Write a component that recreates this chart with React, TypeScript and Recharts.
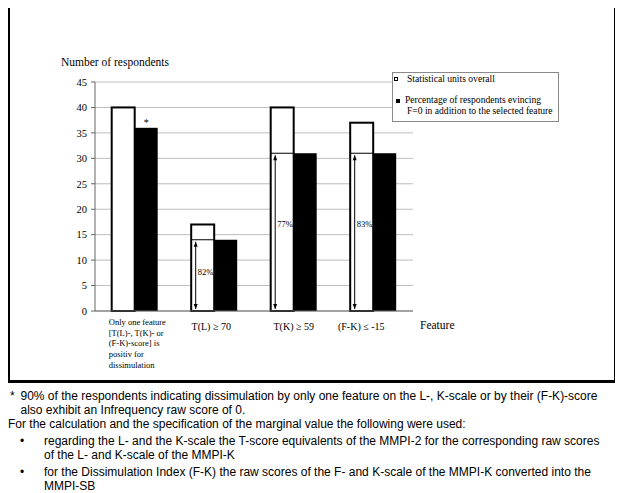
import React from 'react';
import { BarChart, Bar, XAxis, YAxis, CartesianGrid, Legend } from 'recharts';

// categories (first one is wrapped over several lines, as in the figure)
const categoryLines = [
  ['Only one feature', '[T(L)-, T(K)- or', '(F-K)-score] is', 'positiv for', 'dissimulation'],
  ['T(L) \u2265 70'],
  ['T(K) \u2265 59'],
  ['(F-K) \u2264 -15'],
];

// number of respondents
const overall = [40, 17, 40, 37];
const withF0 = [36, 14, 31, 31];

// share of F=0 respondents inside the white bar (%)
const f0Share: (number | null)[] = [null, 82, 77, 83];
const notes = ['*', '', '', ''];

const yTicks = [0, 5, 10, 15, 20, 25, 30, 35, 40, 45];
const edgeTicks = [0, 1, 2, 3, 4];

const data = categoryLines.map((lines, i) => ({
  name: lines.join(' '),
  overall: overall[i],
  withF0: withF0[i],
  share: f0Share[i],
  note: notes[i],
}));

const SERIF = '"Liberation Serif", "Times New Roman", serif';
const SANS = '"Liberation Sans", Arial, sans-serif';
const tickShift = [0, -3, 0, -12];

const FeatureTick = (props: any) => {
  const { x, y, index } = props;
  const lines = categoryLines[index] || [];
  if (lines.length > 1) {
    return (
      <text fontFamily={SERIF} fontSize={8.5} fill="#000">
        {lines.map((l, i) => (
          <tspan key={i} x={x - 26} y={y + 13.7 + i * 10.8}>{l}</tspan>
        ))}
      </text>
    );
  }
  return (
    <text x={x + tickShift[index]} y={y + 19} textAnchor="middle" fontFamily={SERIF} fontSize={10} fill="#000">
      {lines[0]}
    </text>
  );
};

const OverallShape = (props: any) => {
  const { x, y, width, height, payload } = props;
  const bottom = y + height;
  let inner = null;
  if (payload.share != null) {
    const yi = y + height * (1 - payload.withF0 / payload.overall);
    const ax = x + 4.5;
    const h = bottom - yi;
    inner = (
      <g>
        <line x1={x} x2={x + width} y1={yi} y2={yi} stroke="#000" strokeWidth={1} />
        <line x1={ax} x2={ax} y1={yi + 2} y2={bottom - 2} stroke="#000" strokeWidth={1} />
        <polygon points={`${ax},${yi + 2} ${ax - 2},${yi + 7} ${ax + 2},${yi + 7}`} fill="#000" />
        <polygon points={`${ax},${bottom - 2} ${ax - 2},${bottom - 7} ${ax + 2},${bottom - 7}`} fill="#000" />
        <text x={x + 6.5} y={bottom - h * 0.55 + 3} fontFamily={SERIF} fontSize={8.5} fill="#000">
          {payload.share}%
        </text>
      </g>
    );
  }
  return (
    <g>
      <rect x={x} y={y} width={width} height={height} fill="#fff" stroke="#000" strokeWidth={2} />
      {inner}
    </g>
  );
};

const F0Shape = (props: any) => {
  const { x, y, width, height, payload } = props;
  return (
    <g>
      <rect x={x} y={y} width={width} height={height} fill="#000" />
      {payload.note ? (
        <text x={x + width / 2} y={y - 2} textAnchor="middle" fontFamily={SERIF} fontSize={10} fill="#000">
          {payload.note}
        </text>
      ) : null}
    </g>
  );
};

const LegendBox = () => (
  <div
    style={{
      position: 'relative',
      width: 167,
      height: 50,
      border: '1px solid #8a8a8a',
      background: '#fff',
      boxSizing: 'border-box',
      fontFamily: SERIF,
      fontSize: 9.6,
      lineHeight: '10px',
      color: '#000',
    }}
  >
    <div style={{ position: 'absolute', left: 1, top: 4, width: 4, height: 4, border: '1px solid #000', boxSizing: 'border-box' }} />
    <div style={{ position: 'absolute', left: 14, top: 1, whiteSpace: 'nowrap' }}>Statistical units overall</div>
    <div style={{ position: 'absolute', left: 3, top: 26, width: 4, height: 4, background: '#000' }} />
    <div style={{ position: 'absolute', left: 12, top: 22, whiteSpace: 'nowrap' }}>Percentage of respondents evincing</div>
    <div style={{ position: 'absolute', left: 14, top: 33, whiteSpace: 'nowrap' }}>F=0 in addition to the selected feature</div>
  </div>
);

const footStyle: React.CSSProperties = {
  position: 'absolute',
  fontFamily: SANS,
  fontSize: 12,
  lineHeight: '12px',
  color: '#000',
  whiteSpace: 'nowrap',
};

export default function App() {
  return (
    <div style={{ position: 'relative', width: 623, height: 493, margin: '-8px 0 0 -8px', background: '#fff', overflow: 'hidden', fontFamily: SERIF }}>
      <div
        style={{
          position: 'absolute',
          left: 7,
          top: 3,
          width: 610,
          height: 380,
          border: '3px solid #000',
          boxSizing: 'border-box',
        }}
      />
      <div style={{ position: 'absolute', left: 0, top: 0 }}>
        <BarChart
          width={623}
          height={390}
          data={data}
          margin={{ top: 82, right: 210, left: 0, bottom: 0 }}
          barCategoryGap="21%"
          barGap={0}
          style={{ fontFamily: SERIF }}
        >
          <CartesianGrid vertical={false} stroke="#bdbdbd" />
          <XAxis
            xAxisId="edge"
            type="number"
            domain={[0, 4]}
            allowDataOverflow
            ticks={edgeTicks}
            interval={0}
            tick={false}
            axisLine={false}
            tickLine={{ stroke: '#666' }}
            tickSize={5}
            height={0}
          />
          <XAxis
            dataKey="name"
            axisLine={{ stroke: '#666' }}
            tickLine={false}
            tickSize={0}
            tickMargin={0}
            interval={0}
            height={79}
            tick={<FeatureTick />}
          />
          <YAxis
            domain={[0, 45]}
            ticks={yTicks}
            interval={0}
            width={95}
            axisLine={{ stroke: '#666' }}
            tickLine={{ stroke: '#666' }}
            tickSize={4}
            tickMargin={4}
            tick={{ fill: '#000', fontSize: 10.5, fontFamily: SERIF }}
          />
          <YAxis
            yAxisId="right"
            orientation="right"
            domain={[0, 45]}
            width={0}
            tick={false}
            tickLine={false}
            axisLine={{ stroke: '#9a9a9a' }}
          />
          <Legend
            layout="vertical"
            align="center"
            verticalAlign="middle"
            wrapperStyle={{ left: 392, top: 72, width: 167, height: 50 }}
            content={() => <LegendBox />}
          />
          <Bar dataKey="overall" name="Statistical units overall" shape={<OverallShape />} isAnimationActive={false} />
          <Bar dataKey="withF0" name="Percentage of respondents evincing F=0 in addition to the selected feature" shape={<F0Shape />} isAnimationActive={false} />
        </BarChart>
      </div>
      <div style={{ position: 'absolute', left: 61, top: 57, fontFamily: SERIF, fontSize: 11.5, lineHeight: '11.5px', whiteSpace: 'nowrap' }}>
        Number of respondents
      </div>
      <div style={{ position: 'absolute', left: 420, top: 319.5, fontFamily: SERIF, fontSize: 11.5, lineHeight: '11.5px', whiteSpace: 'nowrap' }}>
        Feature
      </div>
      <div style={{ ...footStyle, left: 10, top: 390 }}>*</div>
      <div style={{ ...footStyle, left: 20.5, top: 390 }}>
        90% of the respondents indicating dissimulation by only one feature on the L-, K-scale or by their (F-K)-score
      </div>
      <div style={{ ...footStyle, left: 20.5, top: 404 }}>also exhibit an Infrequency raw score of 0.</div>
      <div style={{ ...footStyle, left: 8, top: 418 }}>
        For the calculation and the specification of the marginal value the following were used:
      </div>
      <div style={{ ...footStyle, left: 20, top: 435 }}>{'\u2022'}</div>
      <div style={{ ...footStyle, left: 44, top: 435 }}>
        regarding the L- and the K-scale the T-score equivalents of the MMPI-2 for the corresponding raw scores
      </div>
      <div style={{ ...footStyle, left: 44, top: 449 }}>of the L- and K-scale of the MMPI-K</div>
      <div style={{ ...footStyle, left: 20, top: 466 }}>{'\u2022'}</div>
      <div style={{ ...footStyle, left: 44, top: 466 }}>
        for the Dissimulation Index (F-K) the raw scores of the F- and K-scale of the MMPI-K converted into the
      </div>
      <div style={{ ...footStyle, left: 44, top: 480 }}>MMPI-SB</div>
    </div>
  );
}
